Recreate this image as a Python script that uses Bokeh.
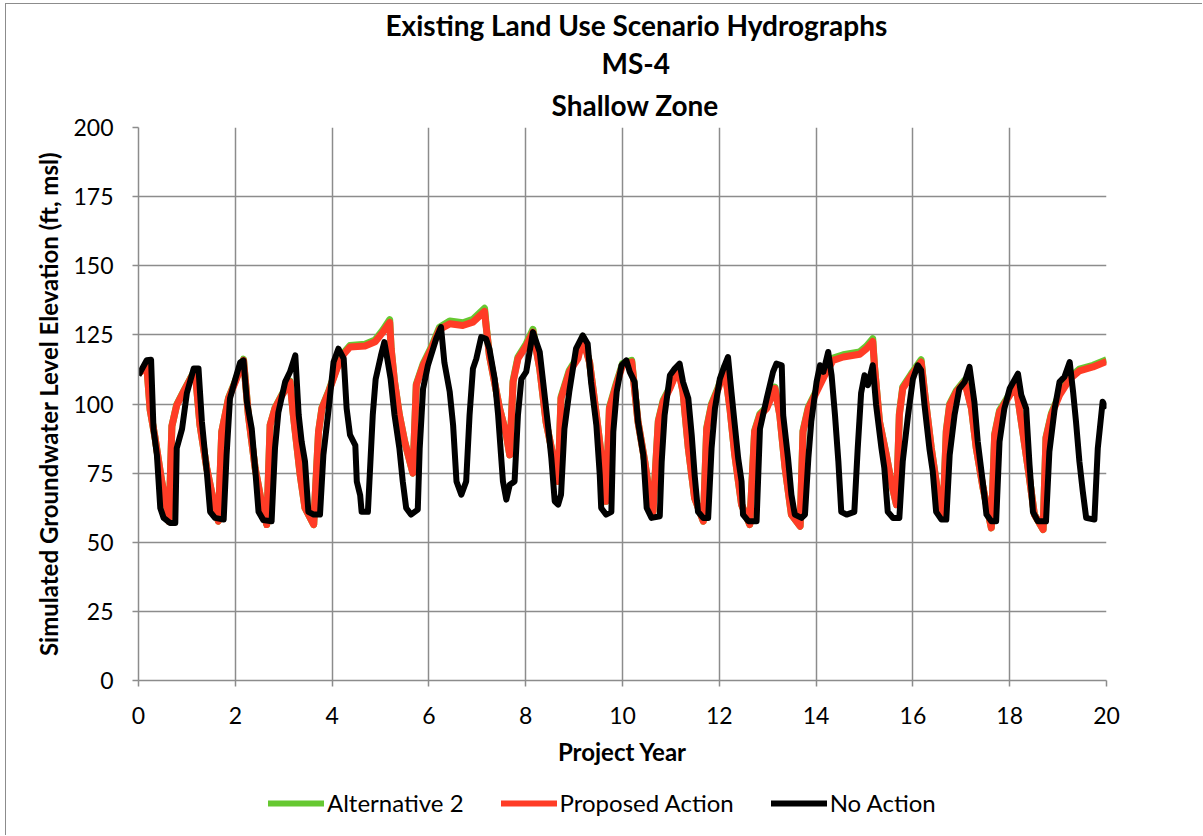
from bokeh.plotting import figure
from bokeh.layouts import column
from bokeh.models import Title, Legend, LegendItem, FixedTicker, Range1d
from bokeh.embed import file_html
from bokeh.resources import INLINE

# ---------------- data ----------------
title_lines = ["Existing Land Use Scenario Hydrographs", "MS-4", "Shallow Zone"]
x_label = "Project Year"
y_label = "Simulated Groundwater Level Elevation (ft, msl)"
x_ticks = [0, 2, 4, 6, 8, 10, 12, 14, 16, 18, 20]
y_ticks = [0, 25, 50, 75, 100, 125, 150, 175, 200]
series_names = ["Alternative 2", "Proposed Action", "No Action"]

pa_year = [0.00, 0.10, 0.17, 0.24, 0.34, 0.48, 0.59, 0.63, 0.69, 0.79, 0.93, 1.07, 1.17, 1.27, 1.41, 1.55,
           1.65, 1.72, 1.86, 2.00, 2.17, 2.27, 2.41, 2.55, 2.65, 2.72, 2.82, 2.96, 3.13, 3.20, 3.34, 3.44,
           3.62, 3.72, 3.79, 3.93, 4.10, 4.24, 4.37, 4.68, 4.89, 5.05, 5.19, 5.22, 5.29, 5.39, 5.50, 5.67,
           5.74, 5.88, 6.05, 6.22, 6.43, 6.70, 6.91, 7.15, 7.18, 7.25, 7.46, 7.60, 7.67, 7.74, 7.84, 8.01,
           8.15, 8.29, 8.42, 8.56, 8.67, 8.73, 8.90, 9.08, 9.18, 9.32, 9.46, 9.56, 9.66, 9.73, 9.87, 10.00,
           10.19, 10.32, 10.46, 10.56, 10.63, 10.74, 10.84, 10.98, 11.15, 11.25, 11.36, 11.49, 11.67, 11.74,
           11.84, 11.98, 12.11, 12.22, 12.32, 12.46, 12.63, 12.73, 12.84, 12.98, 13.15, 13.25, 13.36, 13.49,
           13.67, 13.73, 13.84, 14.01, 14.18, 14.35, 14.56, 14.90, 15.04, 15.17, 15.21, 15.31, 15.45, 15.55,
           15.66, 15.72, 15.79, 15.97, 16.17, 16.24, 16.38, 16.52, 16.62, 16.69, 16.76, 16.90, 17.07, 17.21,
           17.31, 17.45, 17.62, 17.69, 17.79, 17.96, 18.13, 18.24, 18.38, 18.51, 18.69, 18.75, 18.86, 19.03,
           19.24, 19.44, 19.72, 20.00]
proposed_action = [111, 112.5, 114, 98, 88, 72, 62, 57.5, 92, 99.6, 104.4, 109, 112, 92.4, 76.8, 64.8,
                   57.6, 90, 102, 108, 115.8, 96, 76.8, 63.6, 56.4, 92.4, 98.4, 103, 108, 96, 74.4, 62.4,
                   56.4, 90, 98.4, 104.4, 112.8, 118, 120.6, 121, 122.5, 126, 129.5, 120, 108, 96, 86.4, 75,
                   106.8, 114, 120, 127, 129, 128.4, 129.6, 133.5, 128.4, 117.6, 98.4, 88.8, 81.6, 108, 116.4, 121,
                   126, 112.8, 93.6, 81.6, 72, 102, 111.6, 116.4, 123.6, 115, 96, 81.6, 64.8, 98.4, 106.8, 114,
                   115.2, 93.6, 79.2, 67.2, 61, 93.6, 100.8, 105.6, 112.8, 104.4, 84, 66, 57.6, 91,
                   99.6, 105.6, 112.8, 98.4, 81.6, 63.6, 56.4, 90, 96, 98.4, 105.6, 96, 76.8, 60,
                   55.8, 90, 98.4, 104.4, 110.4, 115.8, 117, 118, 120, 122.6, 112.8, 93.6, 81.6, 72,
                   63.6, 96, 105.6, 110.4, 115.2, 104.4, 84, 67.2, 58.8, 90, 99.6, 104.4, 108, 98.4,
                   84, 69.6, 55.2, 88.8, 97.2, 102, 106.8, 93.6, 76.8, 60, 54.6, 87.6, 96, 103.2,
                   109, 112, 113.4, 115.4]
alternative_2 = [111, 112.5, 114, 98, 88, 72, 62, 57.5, 92, 99.8, 104.6, 109.2, 112.3, 92.4, 76.8, 64.8,
                 57.6, 90, 102.2, 108.3, 116.2, 96, 76.8, 63.6, 56.4, 92.4, 98.6, 103.3, 108.3, 96, 74.4, 62.4,
                 56.4, 90, 98.6, 104.7, 113.2, 118.5, 121.2, 121.6, 123.2, 126.8, 130.5, 120, 108, 96, 86.4, 75,
                 107.2, 114.5, 120.6, 127.8, 130, 129.4, 130.6, 134.6, 129, 117.6, 98.4, 88.8, 81.6, 108.5, 117, 121.8,
                 127, 112.8, 93.6, 81.6, 72, 102.5, 112.2, 117.2, 124.4, 115, 96, 81.6, 64.8, 98.8, 107.4, 114.6,
                 115.8, 93.6, 79.2, 67.2, 61, 94, 101.3, 106.1, 113.4, 104.4, 84, 66, 57.6, 91.4,
                 100.1, 106.1, 113.4, 98.4, 81.6, 63.6, 56.4, 90.4, 96.5, 98.9, 106.1, 96, 76.8, 60,
                 55.8, 90.4, 98.9, 105, 111, 116.6, 117.8, 118.8, 120.9, 123.6, 112.8, 93.6, 81.6, 72,
                 63.6, 96.5, 106.2, 111, 116, 104.4, 84, 67.2, 58.8, 90.4, 100.1, 104.9, 108.6, 98.4,
                 84, 69.6, 55.2, 89.2, 97.7, 102.5, 107.3, 93.6, 76.8, 60, 54.6, 88, 96.5, 103.8,
                 109.6, 112.6, 114, 116]

na_year = [0.00, 0.17, 0.26, 0.31, 0.38, 0.45, 0.52, 0.65, 0.76, 0.79, 0.90, 1.00, 1.14, 1.24, 1.31, 1.41,
           1.48, 1.58, 1.76, 1.82, 1.89, 2.00, 2.10, 2.17, 2.24, 2.34, 2.41, 2.48, 2.58, 2.75, 2.82, 2.89,
           3.03, 3.13, 3.24, 3.31, 3.37, 3.44, 3.51, 3.62, 3.75, 3.82, 3.93, 4.03, 4.13, 4.24, 4.30, 4.37,
           4.48, 4.51, 4.58, 4.61, 4.74, 4.84, 4.90, 5.01, 5.08, 5.14, 5.21, 5.29, 5.39, 5.46, 5.53, 5.63,
           5.77, 5.81, 5.88, 5.98, 6.15, 6.25, 6.32, 6.43, 6.50, 6.57, 6.67, 6.77, 6.84, 6.91, 6.98, 7.08,
           7.18, 7.25, 7.36, 7.43, 7.53, 7.60, 7.67, 7.77, 7.84, 7.91, 8.01, 8.15, 8.29, 8.36, 8.46, 8.53,
           8.60, 8.67, 8.73, 8.80, 8.90, 9.04, 9.18, 9.28, 9.35, 9.46, 9.53, 9.56, 9.66, 9.77, 9.81, 9.88,
           9.98, 10.08, 10.15, 10.25, 10.32, 10.43, 10.50, 10.60, 10.77, 10.81, 10.87, 10.98, 11.08, 11.18,
           11.25, 11.36, 11.43, 11.49, 11.56, 11.67, 11.77, 11.84, 11.91, 12.01, 12.11, 12.18, 12.25, 12.32,
           12.39, 12.46, 12.49, 12.60, 12.77, 12.84, 12.98, 13.11, 13.18, 13.29, 13.32, 13.42, 13.49, 13.56,
           13.70, 13.77, 13.84, 13.90, 14.01, 14.08, 14.15, 14.25, 14.32, 14.39, 14.46, 14.52, 14.63, 14.79,
           14.86, 14.93, 15.00, 15.07, 15.17, 15.24, 15.35, 15.41, 15.48, 15.59, 15.72, 15.79, 15.90, 16.00,
           16.10, 16.17, 16.24, 16.34, 16.41, 16.48, 16.59, 16.69, 16.76, 16.86, 16.96, 17.07, 17.17, 17.27,
           17.34, 17.45, 17.52, 17.62, 17.72, 17.79, 17.89, 18.00, 18.17, 18.24, 18.34, 18.41, 18.48, 18.58,
           18.75, 18.82, 18.93, 19.03, 19.13, 19.24, 19.31, 19.37, 19.44, 19.51, 19.58, 19.75, 19.82, 19.92,
           20.00]
no_action = [110.4, 115.8, 116, 91, 81.6, 62.4, 58.8, 57, 57, 84, 91, 104, 112.8, 112.8, 93.6, 75.6,
             61, 58.8, 58.2, 81.6, 102, 109, 115, 115.8, 100.8, 91, 76.7, 61, 58, 57.6, 84, 97,
             108, 111.6, 117.6, 96, 86.4, 79.2, 61, 60, 60, 81.6, 98.4, 115.2, 120, 116.4, 98.4, 88.8,
             85, 72, 67, 61, 61, 96, 109, 117.6, 122.4, 116.4, 109, 96, 84, 72, 62.4, 60,
             61.8, 84, 105.6, 114, 123.6, 127.8, 115, 104.4, 92.4, 72, 67.2, 72, 96, 112.8, 116.4, 124.2,
             123.6, 120, 109, 96, 72, 65.4, 70.8, 72, 96, 109, 111.6, 126, 118.8, 108, 92.4, 80.4,
             64.8, 63.6, 67.2, 91, 104.4, 120, 124.8, 121.8, 108, 92.4, 74.4, 62.4, 60, 61, 90, 104.4,
             114, 115.8, 111.6, 108, 93.6, 81.6, 62.4, 58.8, 59.4, 79.2, 96, 110.4, 112.8, 114.6,
             108, 102, 88.8, 74.4, 61, 58.8, 58.8, 84, 98.4, 109, 114, 117, 104.4, 92.4,
             80.4, 72, 60, 57.6, 57.6, 91, 102, 111.6, 114.6, 114, 96, 80.4, 67.2, 60,
             58.8, 60, 80.4, 93.6, 108, 114, 111.6, 118.8, 110.4, 96, 79.2, 61, 60, 61,
             84, 104, 110.4, 106.8, 114, 99.6, 84, 76.8, 61, 58.8, 58.8, 79.2, 96, 109,
             114, 112.2, 99.6, 84, 75.6, 61, 58.2, 58.2, 81.6, 96, 105.6, 108, 113.4, 100.8,
             86.4, 70.8, 60, 57.6, 57.6, 86.4, 98.4, 105.6, 111, 103.2, 98.4, 78, 61, 57.6,
             57.6, 82.8, 98.4, 108, 109.8, 115.2, 104.4, 93.6, 79.2, 68.4, 58.8, 58.2, 84, 100.8,
             98.4]

# ---------------- figure ----------------
FONT = "Lato"
GRID = "#8c8c8c"
W = 1196

p = figure(width=W, height=766, output_backend="svg", toolbar_location=None,
           x_range=Range1d(0, 20), y_range=Range1d(0, 200),
           min_border_left=132, min_border_right=96, min_border_top=123, min_border_bottom=90)
p.outline_line_color = None
p.background_fill_color = "white"
p.border_fill_color = "white"

for ax in (p.xaxis[0], p.yaxis[0]):
    ax.axis_line_color = GRID
    ax.axis_line_width = 1.5
    ax.major_tick_line_color = GRID
    ax.major_tick_line_width = 1.5
    ax.major_tick_out = 6
    ax.major_tick_in = 0
    ax.minor_tick_line_color = None
    ax.major_label_text_font = FONT
    ax.major_label_text_font_size = "23px"
    ax.major_label_text_color = "black"
    ax.axis_label_text_font = FONT
    ax.axis_label_text_font_style = "bold"
    ax.axis_label_text_font_size = "24px"
    ax.axis_label_text_color = "black"

p.xaxis.ticker = FixedTicker(ticks=x_ticks)
p.yaxis.ticker = FixedTicker(ticks=y_ticks)
p.xaxis.axis_label = x_label
p.yaxis.axis_label = y_label
p.xaxis.major_label_standoff = 20
p.yaxis.major_label_standoff = 19
p.xaxis.axis_label_standoff = 10
p.yaxis.axis_label_standoff = 7

p.xgrid.ticker = FixedTicker(ticks=x_ticks)
p.ygrid.ticker = FixedTicker(ticks=y_ticks)
for g in (p.xgrid[0], p.ygrid[0]):
    g.grid_line_color = GRID
    g.grid_line_width = 1.5

line_colors = ["#66C831", "#FF3C26", "black"]
p.line(pa_year, alternative_2, line_color=line_colors[0], line_width=7, line_join="round")
p.line(pa_year, proposed_action, line_color=line_colors[1], line_width=7, line_join="round")
p.line(na_year, no_action, line_color=line_colors[2], line_width=6, line_join="round")

# three stacked title lines (added nearest-first)
title_offsets = [247, 463, 413]
title_standoffs = [2, 2, 11]
for txt, off, so in reversed(list(zip(title_lines, title_offsets, title_standoffs))):
    p.add_layout(Title(text=txt, align="left", offset=off, standoff=so,
                       text_font=FONT, text_font_style="bold", text_font_size="28px",
                       text_color="black"), "above")

# legend strip below the chart (its frame is aligned with the chart's frame)
q = figure(width=W, height=65, output_backend="svg", toolbar_location=None,
           x_axis_type=None, y_axis_type=None, x_range=Range1d(0, 20), y_range=Range1d(-20, -10),
           min_border=0)
q.outline_line_color = None
q.xgrid.visible = False
q.ygrid.visible = False
rs = [q.line(xs, ys, line_color=c, line_width=6, line_cap="round")
      for xs, ys, c in zip([pa_year, pa_year, na_year], [alternative_2, proposed_action, no_action], line_colors)]
legend = Legend(items=[LegendItem(label=n, renderers=[r]) for n, r in zip(series_names, rs)],
                orientation="horizontal", location=(130, 18),
                label_text_font=FONT, label_text_font_size="24px", label_text_color="black",
                glyph_width=56, glyph_height=24, label_standoff=3, spacing=37,
                padding=4, margin=0, border_line_color=None, background_fill_alpha=0)
q.add_layout(legend, "center")

layout = column(p, q, spacing=0,
                styles={"border-left": "1px solid #8c8c8c", "border-top": "1px solid #8c8c8c",
                        "margin-left": "5px", "margin-top": "3px"})

open("out.html", "w").write(file_html(layout, INLINE))
